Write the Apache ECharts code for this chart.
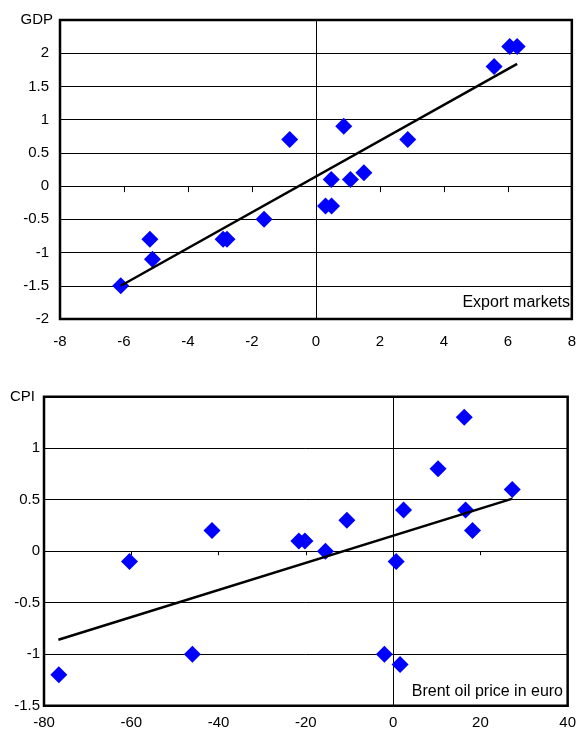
<!DOCTYPE html>
<html><head><meta charset="utf-8">
<script src="https://cdn.jsdelivr.net/npm/echarts@6/dist/echarts.min.js"></script>
<style>html,body{margin:0;padding:0;background:#fff}#c{width:579px;height:733px}</style>
</head><body><div id="c"></div><script>
// Top panel: GDP vs export markets
const gdpPoints = [
  [6.06, 2.1], [6.29, 2.1], [5.57, 1.8], [-0.82, 0.7], [0.87, 0.9], [2.87, 0.7],
  [1.5, 0.2], [0.48, 0.1], [1.08, 0.1], [0.3, -0.3], [0.49, -0.3],
  [-5.19, -0.8], [-5.11, -1.1], [-6.1, -1.5], [-2.9, -0.8], [-2.78, -0.8], [-1.62, -0.5]
];
const gdpTrend = [[-6.1, -1.5], [6.29, 1.84]];
const gdpX = { min: -8, max: 8, interval: 2 };
const gdpY = { min: -2, max: 2.5, interval: 0.5 };

// Bottom panel: CPI vs Brent oil price in euro
const cpiPoints = [
  [16.3, 1.3], [10.3, 0.8], [27.3, 0.6], [2.4, 0.4], [16.6, 0.4], [18.2, 0.2],
  [-10.6, 0.3], [-21.6, 0.1], [-20.2, 0.1], [-15.5, 0.0], [0.7, -0.1],
  [-60.4, -0.1], [-41.5, 0.2], [-76.6, -1.2], [-46.0, -1.0], [-2.0, -1.0], [1.6, -1.1]
];
const cpiTrend = [[-76.7, -0.86], [27.35, 0.51]];
const cpiX = { min: -80, max: 40, interval: 20 };
const cpiY = { min: -1.5, max: 1.5, interval: 0.5 };

const FONT = "'Liberation Sans', Arial, Helvetica, sans-serif";
const chart = echarts.init(document.getElementById('c'), null, { renderer: 'canvas' });

function mainX(gi, r, margin) {
  return { type: 'value', gridIndex: gi, min: r.min, max: r.max, interval: r.interval, position: 'bottom',
    axisLine: { show: false, onZero: false }, axisTick: { show: false }, splitLine: { show: false },
    axisLabel: { color: '#000', fontSize: 15, fontFamily: FONT, margin: margin } };
}
function zeroX(gi, r, yIdx, tickLen) {
  return { type: 'value', gridIndex: gi, min: r.min, max: r.max, interval: r.interval, position: 'bottom',
    axisLine: { show: true, onZero: true, onZeroAxisIndex: yIdx, lineStyle: { color: '#000', width: 1 } },
    axisTick: { show: true, length: tickLen, lineStyle: { color: '#000', width: 1 } },
    axisLabel: { show: false }, splitLine: { show: false } };
}
function mainY(gi, r, margin, name, namePad) {
  return { type: 'value', gridIndex: gi, min: r.min, max: r.max, interval: r.interval, position: 'left',
    name: name, nameLocation: 'end', nameGap: 0,
    nameTextStyle: { color: '#000', fontSize: 15, fontFamily: FONT, align: 'right', verticalAlign: 'middle', padding: namePad },
    axisLine: { show: false, onZero: false }, axisTick: { show: false },
    splitLine: { show: true, lineStyle: { color: '#000', width: 1 } },
    axisLabel: { color: '#000', fontSize: 15, fontFamily: FONT, margin: margin,
      formatter: v => (Math.abs(v - r.max) < 1e-9 ? '' : String(v)) } };
}
function zeroY(gi, r, xIdx) {
  return { type: 'value', gridIndex: gi, min: r.min, max: r.max, interval: r.interval, position: 'left',
    axisLine: { show: true, onZero: true, onZeroAxisIndex: xIdx, lineStyle: { color: '#000', width: 1 } },
    axisTick: { show: false }, axisLabel: { show: false }, splitLine: { show: false } };
}

chart.setOption({
  animation: false,
  backgroundColor: '#fff',
  grid: [
    { left: 60, top: 20, width: 514, height: 299, show: true, borderColor: '#000', borderWidth: 2.5, backgroundColor: 'transparent' },
    { left: 44, top: 396.7, width: 527.3, height: 309, show: true, borderColor: '#000', borderWidth: 2.5, backgroundColor: 'transparent' }
  ],
  xAxis: [
    mainX(0, gdpX, 15), zeroX(0, gdpX, 0, 6),
    mainX(1, cpiX, 10), zeroX(1, cpiX, 2, 4)
  ],
  yAxis: [
    mainY(0, gdpY, 11, 'GDP', [0, 7, 0, 0]), zeroY(0, gdpY, 0),
    mainY(1, cpiY, 4, 'CPI', [0, 9, 2, 0]), zeroY(1, cpiY, 2)
  ],
  series: [
    { type: 'scatter', xAxisIndex: 0, yAxisIndex: 0, data: gdpPoints, symbol: 'diamond', symbolSize: 17,
      itemStyle: { color: '#0000ff', opacity: 1 }, z: 3 },
    { type: 'line', xAxisIndex: 0, yAxisIndex: 0, data: gdpTrend, symbol: 'none',
      lineStyle: { color: '#000', width: 2.5 }, z: 4 },
    { type: 'scatter', xAxisIndex: 2, yAxisIndex: 2, data: cpiPoints, symbol: 'diamond', symbolSize: 17,
      itemStyle: { color: '#0000ff', opacity: 1 }, z: 3 },
    { type: 'line', xAxisIndex: 2, yAxisIndex: 2, data: cpiTrend, symbol: 'none',
      lineStyle: { color: '#000', width: 2.5 }, z: 4 }
  ],
  graphic: [
    { type: 'text', right: 9, top: 295, style: { text: 'Export markets', fill: '#000', fontSize: 16, fontFamily: FONT } },
    { type: 'text', right: 16, top: 684, style: { text: 'Brent oil price in euro', fill: '#000', fontSize: 16, fontFamily: FONT } }
  ]
});
</script></body></html>
